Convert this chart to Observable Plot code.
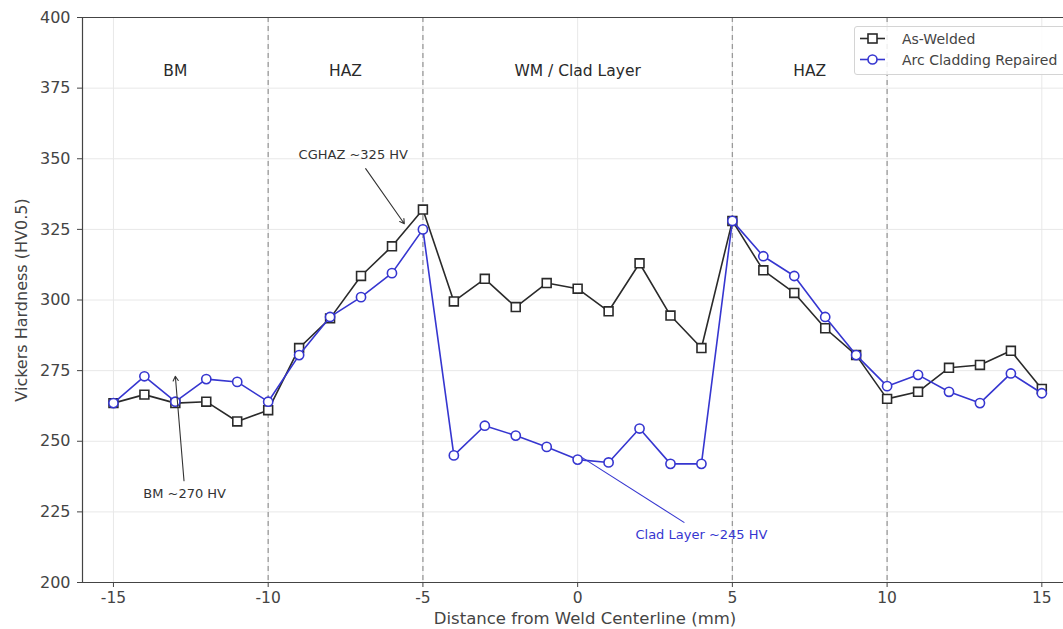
<!DOCTYPE html>
<html>
<head>
<meta charset="utf-8">
<script src="https://cdn.jsdelivr.net/npm/d3@7"></script>
<script src="https://cdn.jsdelivr.net/npm/@observablehq/plot@0.6"></script>
<style>
  body { margin: 0; background: #fff; font-family: "DejaVu Sans", sans-serif; }
  #wrap { position: relative; width: 1063px; height: 629px; overflow: hidden; }
  #legend { position: absolute; left: 854px; top: 26px; width: 230px; height: 49px; border: 1px solid #d4d4d4; border-radius: 3px; background: rgba(255,255,255,0.85); font-size: 14px; color: #444; box-sizing: border-box; }
  .item { position: absolute; left: 5px; display: flex; align-items: center; white-space: nowrap; }
  .item svg { margin-right: 17px; }
</style>
</head>
<body>
<div id="wrap"></div>
<script>
const positions = [-15,-14,-13,-12,-11,-10,-9,-8,-7,-6,-5,-4,-3,-2,-1,0,1,2,3,4,5,6,7,8,9,10,11,12,13,14,15];
const asWelded = [263.5,266.5,263.5,264,257,261,283,293.5,308.5,319,332,299.5,307.5,297.5,306,304,296,313,294.5,283,328,310.5,302.5,290,280.5,265,267.5,276,277,282,268.5];
const repaired = [263.5,273,264,272,271,264,280.5,294,301,309.5,325,245,255.5,252,248,243.5,242.5,254.5,242,242,328,315.5,308.5,294,280.5,269.5,273.5,267.5,263.5,274,267];
const seriesNames = ["As-Welded", "Arc Cladding Repaired"];
const xTicks = [-15,-10,-5,0,5,10,15];
const yTicks = [200,225,250,275,300,325,350,375,400];
const xLabel = "Distance from Weld Centerline (mm)";
const yLabel = "Vickers Hardness (HV0.5)";
const boundaries = [-10,-5,5,10];
const regionLabels = ["BM","HAZ","WM / Clad Layer","HAZ"];
const regionCenters = [-13,-7.5,0,7.5];
const regionY = 381;
const arrowNotes = [
  {label:"CGHAZ ~325 HV", tx:-7.25, ty:351.5, x1:-6.85, y1:346.5, x2:-5.6, y2:327},
  {label:"BM ~270 HV", tx:-12.7, ty:231.5, x1:-12.72, y1:236, x2:-13.0, y2:273}
];
const cladNote = {label:"Clad Layer ~245 HV", tx:4.0, ty:217, x1:3.45, y1:221.2, x2:0.15, y2:244.2};

const BLACK = "#2a2a2a";
const BLUE = "#3636d0";
const TEXT = "#444";

const aw = positions.map((x,i) => ({x, y: asWelded[i]}));
const rp = positions.map((x,i) => ({x, y: repaired[i]}));

const chart = Plot.plot({
  width: 1063,
  height: 629,
  marginLeft: 82,
  marginRight: 0,
  marginTop: 17,
  marginBottom: 47,
  style: {fontFamily: "'DejaVu Sans', sans-serif", fontSize: "15px", color: TEXT, background: "#fff"},
  x: {domain: [-16, 15.7]},
  y: {domain: [200, 400]},
  marks: [
    Plot.gridX(xTicks, {stroke: "#e8e8e8", strokeOpacity: 1}),
    Plot.gridY(yTicks, {stroke: "#e8e8e8", strokeOpacity: 1}),
    Plot.ruleX(boundaries, {stroke: "#9a9a9a", strokeDasharray: "5,4", strokeWidth: 1.3}),
    Plot.axisX(xTicks, {tickSize: 5, tickPadding: 4, fontSize: 15.5, stroke: "#444", tickFormat: d => String(d), label: null}),
    Plot.axisY(yTicks, {tickSize: 5, tickPadding: 7, fontSize: 16, stroke: "#444", label: yLabel, labelAnchor: "center", labelOffset: 67, labelArrow: "none"}),
    Plot.text([xLabel], {frameAnchor: "bottom", text: d => d, dy: 41, dx: 12, fontSize: 16.5, fill: TEXT}),
    Plot.ruleX([-16], {stroke: "#444", strokeWidth: 1.2}),
    Plot.ruleY([200, 400], {stroke: "#444", strokeWidth: 1.2}),
    Plot.text(regionLabels, {x: (d,i) => regionCenters[i], y: () => regionY, text: d => d, fontSize: 15.5, fill: "#2a2a2a"}),
    Plot.line(aw, {x: "x", y: "y", stroke: BLACK, strokeWidth: 1.6}),
    Plot.dot(aw, {x: "x", y: "y", symbol: "square", r: 5, stroke: BLACK, strokeWidth: 1.6, fill: "white"}),
    Plot.line(rp, {x: "x", y: "y", stroke: BLUE, strokeWidth: 1.6}),
    Plot.dot(rp, {x: "x", y: "y", symbol: "circle", r: 4.6, stroke: BLUE, strokeWidth: 1.6, fill: "white"}),
    Plot.arrow(arrowNotes, {x1: "x1", y1: "y1", x2: "x2", y2: "y2", stroke: "#333", strokeWidth: 1.1, headLength: 7, bend: 0}),
    Plot.text(arrowNotes, {x: "tx", y: "ty", text: "label", fontSize: 13, fill: "#333"}),
    Plot.link([cladNote], {x1: "x1", y1: "y1", x2: "x2", y2: "y2", stroke: BLUE, strokeWidth: 1.1}),
    Plot.text([cladNote], {x: "tx", y: "ty", text: "label", fontSize: 13, fill: BLUE})
  ]
});

const wrap = document.getElementById("wrap");
wrap.appendChild(chart);

const legend = document.createElement("div");
legend.id = "legend";
const colors = [BLACK, BLUE];
const shapes = ["square", "circle"];
seriesNames.forEach((name, i) => {
  const item = document.createElement("div");
  item.className = "item";
  item.style.top = (i === 0 ? 2 : 23) + "px";
  const shape = shapes[i] === "square"
    ? `<rect x="8" y="5" width="9" height="9" fill="white" stroke="${colors[i]}" stroke-width="1.6"/>`
    : `<circle cx="12.5" cy="9.5" r="4.5" fill="white" stroke="${colors[i]}" stroke-width="1.6"/>`;
  item.innerHTML = `<svg width="25" height="19"><line x1="0" y1="9.5" x2="25" y2="9.5" stroke="${colors[i]}" stroke-width="1.6"/>${shape}</svg><span>${name}</span>`;
  legend.appendChild(item);
});
wrap.appendChild(legend);
</script>
</body>
</html>
